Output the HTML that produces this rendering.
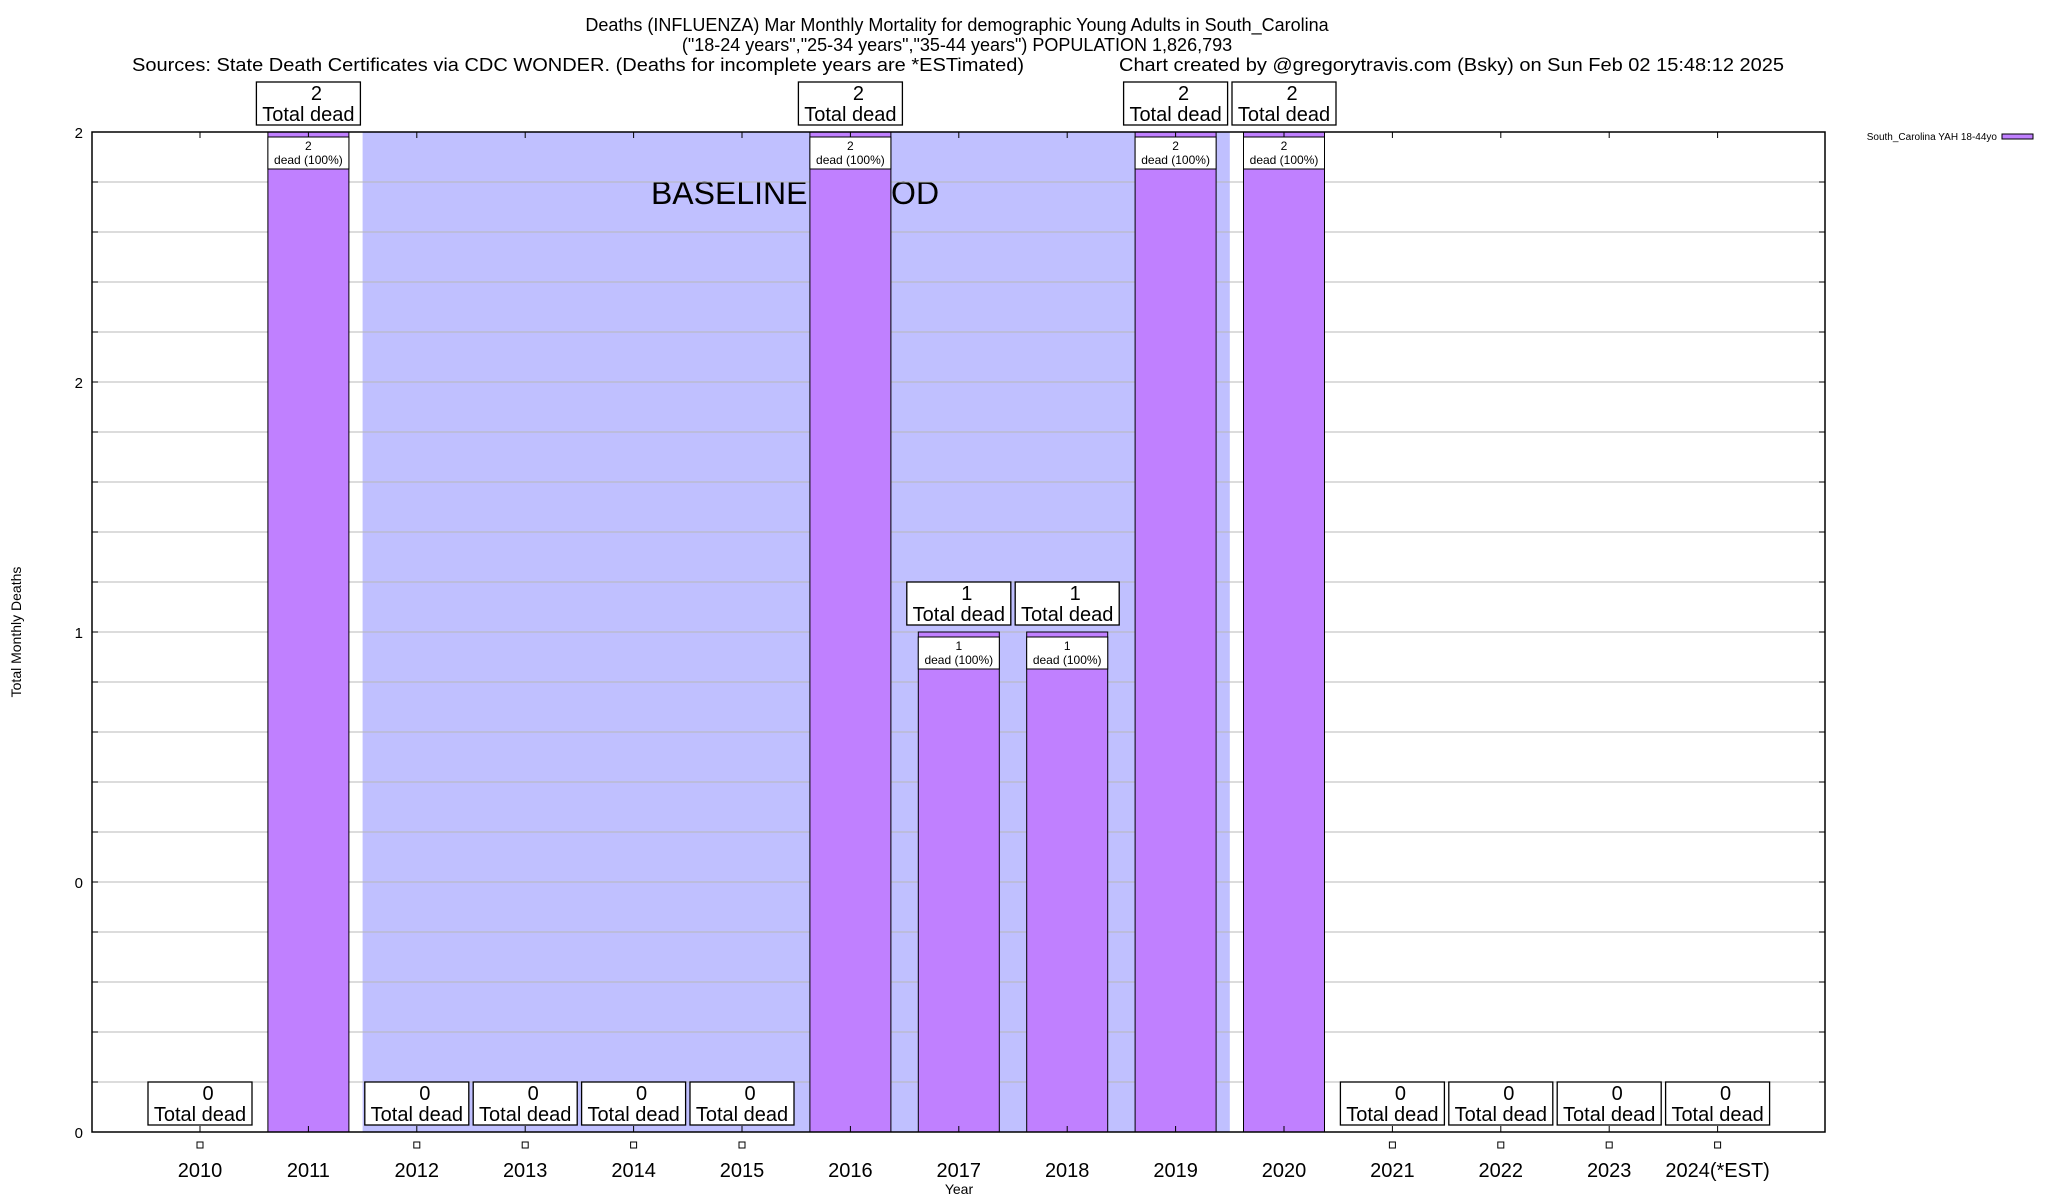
<!DOCTYPE html>
<html><head><meta charset="utf-8"><style>
html,body{margin:0;padding:0;background:#fff}
svg{display:block;font-family:"Liberation Sans",Arial,sans-serif}
</style></head><body>
<svg id="chart" width="2048" height="1200" viewBox="0 0 2048 1200" xmlns="http://www.w3.org/2000/svg">
<g font-size="18" text-anchor="middle" fill="#000">
<text x="957" y="31">Deaths (INFLUENZA) Mar Monthly Mortality for demographic Young Adults in South_Carolina</text>
<text x="957" y="51">("18-24 years","25-34 years","35-44 years") POPULATION 1,826,793</text>
<text x="132" y="71" text-anchor="start" textLength="892" lengthAdjust="spacingAndGlyphs">Sources: State Death Certificates via CDC WONDER. (Deaths for incomplete years are *ESTimated)</text>
<text x="1119" y="71" text-anchor="start" textLength="665" lengthAdjust="spacingAndGlyphs">Chart created by @gregorytravis.com (Bsky) on Sun Feb 02 15:48:12 2025</text>
</g>
<g id="shade"></g>
<g id="grid"></g>
<g id="bars"></g>
<g id="axes"></g>
<g id="labels"></g>
<text transform="translate(21,632) rotate(-90)" font-size="14" text-anchor="middle">Total Monthly Deaths</text>
<text x="959" y="1194" font-size="14" text-anchor="middle">Year</text>
<g>
<text x="1997" y="140" font-size="10" text-anchor="end">South_Carolina YAH 18-44yo</text>
<rect x="2002" y="134" width="31" height="5" fill="#c080ff" stroke="#000" stroke-width="1"/>
</g>
</svg>
<script>
const years = ["2010","2011","2012","2013","2014","2015","2016","2017","2018","2019","2020","2021","2022","2023","2024(*EST)"];
const deaths = [0,2,0,0,0,0,2,1,1,2,2,0,0,0,0];
const percents = ["100%","100%","100%","100%","100%","100%","100%","100%","100%","100%","100%","100%","100%","100%","100%"];
const yTickValues = [0,0.5,1,1.5,2];
const yTickLabels = ["0","0","1","2","2"];
const baselineStart = 1.5, baselineEnd = 9.5;
const yMax = 2;

const NS="http://www.w3.org/2000/svg";
const L=92,R=1825,T=132,B=1132,step=108.4,x0=200,bw=81;
const xs=i=>x0+i*step;
const ys=v=>B-(v/yMax)*(B-T);
function mk(tag,attrs,parent,text){const e=document.createElementNS(NS,tag);for(const k in attrs)e.setAttribute(k,attrs[k]);if(text!==undefined)e.textContent=text;parent.appendChild(e);return e;}
const gS=document.getElementById('shade'),gG=document.getElementById('grid'),gB=document.getElementById('bars'),gA=document.getElementById('axes'),gL=document.getElementById('labels');

const sh=mk('rect',{x:xs(baselineStart),y:T,width:xs(baselineEnd)-xs(baselineStart),height:B-T,fill:'#c0c0ff'},gS);


const bt=mk('text',{x:795,y:204,'font-size':32,'text-anchor':'middle'},gS,'BASELINE PERIOD');



for(let k=1;k<20;k++){const v=k*yMax/20;const y=ys(v);
 const g=mk('line',{x1:L,x2:R,y1:y,y2:y,stroke:'#b8b8b8','stroke-width':1},gG);
 
 
 mk('line',{x1:L,x2:L+6,y1:y,y2:y,stroke:'#000'},gA);
 mk('line',{x1:R-6,x2:R,y1:y,y2:y,stroke:'#000'},gA);
}
yTickValues.forEach((v,i)=>{
 const t=mk('text',{x:83,y:ys(v)+6,'font-size':15,'text-anchor':'end'},gA,yTickLabels[i]);
 
 
});

years.forEach((yr,i)=>{
 const cx=xs(i),v=deaths[i],top=ys(v);
 mk('line',{x1:cx,x2:cx,y1:B,y2:B-6,stroke:'#000'},gA);
 mk('line',{x1:cx,x2:cx,y1:T,y2:T+6,stroke:'#000'},gA);
 const xl=mk('text',{x:cx,y:1177,'font-size':20,'text-anchor':'middle'},gL,yr);
 
 
 if(v>0){
  const b=mk('rect',{x:cx-bw/2,y:top,width:bw,height:B-top,fill:'#c080ff',stroke:'#000','stroke-width':1},gB);
  
  
  const ib=mk('rect',{x:cx-bw/2,y:top+5,width:bw,height:32,fill:'#fff',stroke:'#000','stroke-width':1},gL);
  
  
  mk('text',{x:cx,y:top+18,'font-size':12,'text-anchor':'middle'},gL,String(v));
  mk('text',{x:cx,y:top+32,'font-size':12,'text-anchor':'middle'},gL,'dead ('+percents[i]+')');
 } else {
  const p=mk('rect',{x:cx-3,y:1142,width:6,height:6,fill:'none',stroke:'#000','stroke-width':1},gL);
  
  
 }
 const bb=top-7;
 const tb=mk('rect',{x:cx-52,y:bb-43,width:104,height:43,fill:'#fff',stroke:'#000','stroke-width':1.3},gL);
 
 
 mk('text',{x:cx+8,y:bb-25,'font-size':20,'text-anchor':'middle'},gL,String(v));
 mk('text',{x:cx,y:bb-4,'font-size':20,'text-anchor':'middle'},gL,'Total dead');
});
const fr=mk('rect',{x:L,y:T,width:R-L,height:B-T,fill:'none',stroke:'#000','stroke-width':1.5},gA);


</script>
</body></html>
